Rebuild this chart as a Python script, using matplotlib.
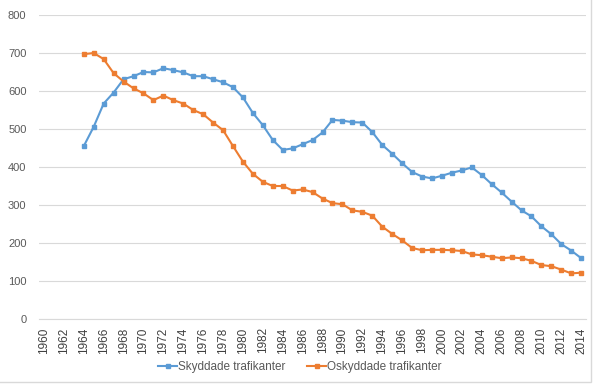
import numpy as np
import matplotlib
matplotlib.use("Agg")
import matplotlib.pyplot as plt
from matplotlib.patches import Rectangle

plt.rcParams['font.family'] = ['Liberation Sans', 'DejaVu Sans']

# year axis (category axis, every year, labels every 2nd year)
years = list(range(1960, 2015))
data_years = list(range(1964, 2015))

# Skyddade trafikanter (protected road users)
skyddade = [455, 506, 567, 596, 631, 639, 650, 649, 660, 655,
            649, 639, 639, 631, 623, 610, 583, 542, 510, 471,
            445, 449, 460, 471, 491, 524, 522, 518, 517, 492,
            458, 435, 410, 387, 375, 370, 377, 385, 391, 399,
            379, 355, 333, 309, 286, 270, 244, 223, 197, 180, 160]

# Oskyddade trafikanter (unprotected road users)
oskyddade = [697, 700, 684, 647, 625, 607, 594, 576, 588, 576,
             567, 550, 539, 517, 497, 455, 414, 382, 361, 350,
             350, 338, 341, 334, 317, 305, 302, 286, 282, 272,
             243, 224, 207, 187, 181, 182, 182, 181, 179, 170,
             168, 164, 160, 162, 160, 153, 142, 139, 130, 120, 122]

blue = '#5B9BD5'
orange = '#ED7D31'
grey_txt = '#595959'
grid_c = '#D9D9D9'

fig = plt.figure(figsize=(6, 3.9), dpi=100)
ax = fig.add_axes([0.065, 0.182, 0.912, 0.7795])

xi = [years.index(y) for y in data_years]
ax.plot(xi, skyddade, color=blue, lw=1.5, marker='s', ms=3.5,
        label='Skyddade trafikanter')
ax.plot(xi, oskyddade, color=orange, lw=1.5, marker='s', ms=3.5,
        label='Oskyddade trafikanter')

ax.set_xlim(-0.5, len(years) - 0.5)
ax.set_ylim(0, 800)
ax.set_yticks(range(0, 801, 100))
ax.set_xticks(range(0, len(years), 2))
ax.set_xticklabels([str(y) for y in years[::2]], rotation=90)
ax.tick_params(axis='y', length=0, labelsize=8, labelcolor=grey_txt, pad=9)
ax.tick_params(axis='x', length=0, labelsize=8.5, labelcolor='#404040', pad=6)

ax.grid(axis='y', color=grid_c, lw=0.8)
ax.set_axisbelow(True)
for s in ['top', 'right', 'left']:
    ax.spines[s].set_visible(False)
ax.spines['bottom'].set_color(grid_c)

fig.legend(loc='center', bbox_to_anchor=(0.5, 0.059), ncol=2, frameon=False,
           fontsize=8.5, labelcolor=grey_txt, handlelength=1.6, columnspacing=1.8,
           handletextpad=0.1)

# outer chart border
fig.patches.append(Rectangle((-0.01, 0.02), 0.995, 0.99, transform=fig.transFigure,
                             fill=False, edgecolor='#D9D9D9', lw=1.0))

fig.savefig('out.png', dpi=100)
